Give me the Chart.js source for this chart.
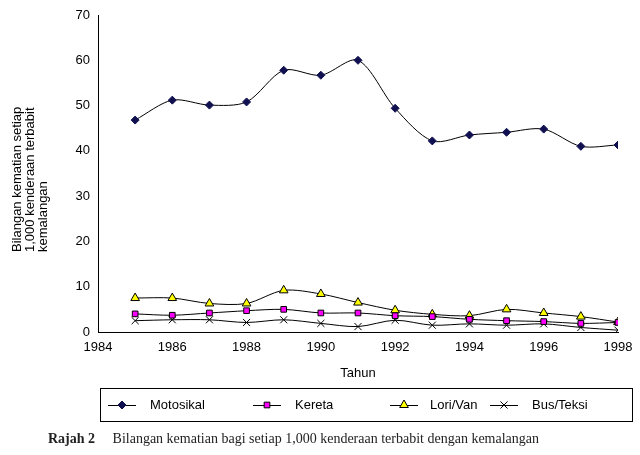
<!DOCTYPE html>
<html>
<head>
<meta charset="utf-8">
<script src="https://cdn.jsdelivr.net/npm/chart.js@4"></script>
<style>
body { margin: 0; background: #fff; }
#wrap { position: relative; width: 640px; height: 455px; }
#caption { position: absolute; left: 48px; top: 431px; font-family: "Liberation Serif", serif; font-size: 14px; color: #222; }
#caption b { margin-right: 14px; }
</style>
</head>
<body>
<div id="wrap">
<canvas id="chart" width="640" height="455"></canvas>
<div id="caption"><b>Rajah 2</b> Bilangan kematian bagi setiap 1,000 kenderaan terbabit dengan kemalangan</div>
</div>
<script>
// data
const years = [1985, 1986, 1987, 1988, 1989, 1990, 1991, 1992, 1993, 1994, 1995, 1996, 1997, 1998];
const motosikal = [46.8, 51.2, 50.1, 50.8, 57.8, 56.7, 60.0, 49.4, 42.2, 43.5, 44.1, 44.8, 41.0, 41.3];
const kereta = [4.0, 3.7, 4.2, 4.7, 5.0, 4.2, 4.2, 3.6, 3.4, 2.8, 2.5, 2.3, 1.9, 2.1];
const loriVan = [7.5, 7.5, 6.3, 6.3, 9.2, 8.4, 6.5, 4.8, 3.9, 3.6, 5.0, 4.2, 3.4, 2.2];
const busTeksi = [2.5, 2.7, 2.7, 2.1, 2.7, 1.9, 1.2, 2.6, 1.5, 1.8, 1.5, 1.8, 1.0, 0.4];
const xTicks = [1984, 1986, 1988, 1990, 1992, 1994, 1996, 1998];
const yTitle = ['Bilangan kematian setiap', '1,000 kenderaan terbabit', 'kemalangan'];
const xTitle = 'Tahun';

const FONT = 'Liberation Sans';

function series(label, values, style, bg, radius) {
    return {
        label: label,
        data: values.map((v, i) => ({ x: years[i], y: v })),
        borderColor: '#000',
        borderWidth: 1,
        pointStyle: style,
        pointBackgroundColor: bg,
        pointBorderColor: style === 'rectRot' ? '#101050' : '#000',
        pointBorderWidth: 1,
        pointRadius: radius,
        tension: 0.3
    };
}

// draws the axis titles and the boxed legend
const extras = {
    id: 'extras',
    afterDraw(chart) {
        const c = chart.ctx;
        const area = chart.chartArea;
        c.save();
        c.fillStyle = '#000';
        c.font = '13px ' + FONT;
        c.textAlign = 'center';
        c.textBaseline = 'middle';
        c.fillText(xTitle, (area.left + area.right) / 2, 373);
        c.translate(17, 252);
        c.rotate(-Math.PI / 2);
        c.textAlign = 'left';
        yTitle.forEach((t, i) => c.fillText(t, 0, i * 13));
        c.restore();

        c.save();
        c.strokeStyle = '#000';
        c.lineWidth = 1;
        c.strokeRect(100.5, 388.5, 532, 33);
        const items = [[108, 150], [253, 295], [390, 430], [490, 532]];
        c.font = '13px ' + FONT;
        c.textBaseline = 'middle';
        chart.data.datasets.forEach((ds, i) => {
            const [lx, tx] = items[i];
            const y = 405;
            c.beginPath();
            c.moveTo(lx, y + 0.5);
            c.lineTo(lx + 28, y + 0.5);
            c.strokeStyle = '#000';
            c.stroke();
            c.fillStyle = ds.pointBackgroundColor;
            c.strokeStyle = ds.pointBorderColor;
            Chart.helpers.drawPoint(c, { pointStyle: ds.pointStyle, radius: ds.pointRadius, borderWidth: 1, rotation: 0 }, lx + 14, y);
            c.fillStyle = '#000';
            c.fillText(ds.label, tx, y);
        });
        c.restore();
    }
};

new Chart(document.getElementById('chart'), {
    type: 'line',
    data: {
        datasets: [
            series('Motosikal', motosikal, 'rectRot', '#101050', 4),
            series('Kereta', kereta, 'rect', '#ff00ff', 4),
            series('Lori/Van', loriVan, 'triangle', '#ffff00', 5),
            series('Bus/Teksi', busTeksi, 'crossRot', '#000', 5)
        ]
    },
    options: {
        responsive: false,
        animation: false,
        layout: { padding: { left: 48, right: 22, top: 15, bottom: 0 } },
        plugins: { legend: { display: false }, tooltip: { enabled: false } },
        scales: {
            x: {
                type: 'linear',
                min: 1984,
                max: 1998,
                afterBuildTicks: s => { s.ticks = xTicks.map(v => ({ value: v })); },
                afterFit: s => { s.height = 123; },
                grid: { display: false, drawTicks: true, tickLength: 5, color: '#000' },
                border: { color: '#000' },
                ticks: { color: '#000', font: { family: FONT, size: 13 }, maxRotation: 0, padding: 3, callback: v => String(v) }
            },
            y: {
                min: 0,
                max: 70,
                afterFit: s => { s.width = 50; },
                grid: { display: false, drawTicks: true, tickLength: 5 },
                border: { color: '#000' },
                ticks: { stepSize: 10, color: '#000', font: { family: FONT, size: 13 }, padding: 3 }
            }
        }
    },
    plugins: [extras]
});
</script>
</body>
</html>
